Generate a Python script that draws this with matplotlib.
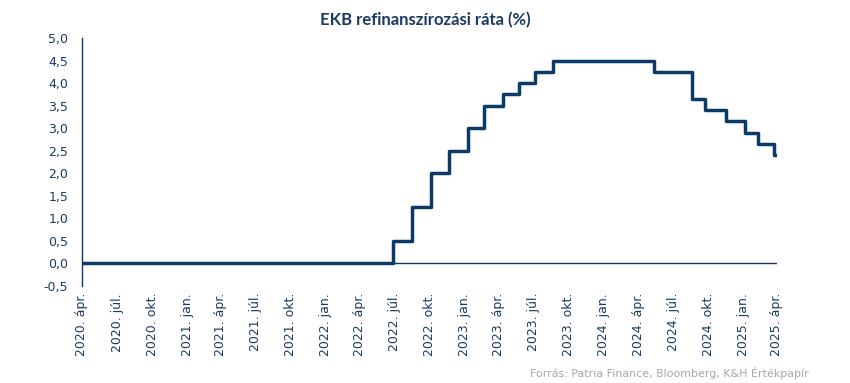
import matplotlib
matplotlib.use('Agg')
import matplotlib.pyplot as plt
import pandas as pd

# ECB main refinancing rate, change dates and new levels
dates = ['2020-04-30', '2022-07-27', '2022-09-14', '2022-11-02', '2022-12-21',
         '2023-02-08', '2023-03-22', '2023-05-10', '2023-06-21', '2023-08-02',
         '2023-09-20', '2024-06-12', '2024-09-18', '2024-10-23', '2024-12-18',
         '2025-02-05', '2025-03-12', '2025-04-23', '2025-04-28']
rates = [0.0, 0.5, 1.25, 2.0, 2.5,
         3.0, 3.5, 3.75, 4.0, 4.25,
         4.5, 4.25, 3.65, 3.4, 3.15,
         2.9, 2.65, 2.4, 2.4]

# quarterly tick labels
tick_dates = pd.date_range('2020-04-30', '2025-04-30', freq='3ME')
honap = {1: 'jan.', 4: 'ápr.', 7: 'júl.', 10: 'okt.'}
tick_labels = [f'{d.year}. {honap[d.month]}' for d in tick_dates]

y_ticks = [-0.5, 0, 0.5, 1, 1.5, 2, 2.5, 3, 3.5, 4, 4.5, 5]

navy = '#0b3a69'
txt = '#1a3a63'

fig = plt.figure(figsize=(8.5, 3.83), dpi=100)
ax = fig.add_axes([82 / 850, 1 - 286 / 383, (777 - 82) / 850, (286 - 38) / 383])

x = pd.to_datetime(dates)
ax.step(x, rates, where='post', color=navy, lw=2.5)
ax.axhline(0, color=navy, lw=1, zorder=1)

ax.set_xlim(pd.Timestamp('2020-04-30'), pd.Timestamp('2025-04-30'))
ax.set_ylim(-0.5, 5.0)
ax.set_yticks(y_ticks)
ax.set_yticklabels([f'{v:.1f}'.replace('.', ',') for v in y_ticks])
ax.set_xticks(tick_dates)
ax.set_xticklabels(tick_labels, rotation=90)

ax.tick_params(axis='both', length=0, labelsize=9, labelcolor=txt)
ax.tick_params(axis='y', pad=10)
ax.tick_params(axis='x', pad=5)
for s in ['top', 'right', 'bottom']:
    ax.spines[s].set_visible(False)
ax.spines['left'].set_color(navy)
ax.spines['left'].set_linewidth(1)

fig.text(0.5, 1 - 20 / 383, 'EKB refinanszírozási ráta (%)', ha='center', va='center',
         fontsize=12, fontweight='bold', color=txt, family='Lato')
fig.text(809 / 850, 1 - 373 / 383, 'Forrás: Patria Finance, Bloomberg, K&H Értékpapír',
         ha='right', va='center', fontsize=7.9, color='#a6a6ad')

fig.savefig('out.png', dpi=100)
